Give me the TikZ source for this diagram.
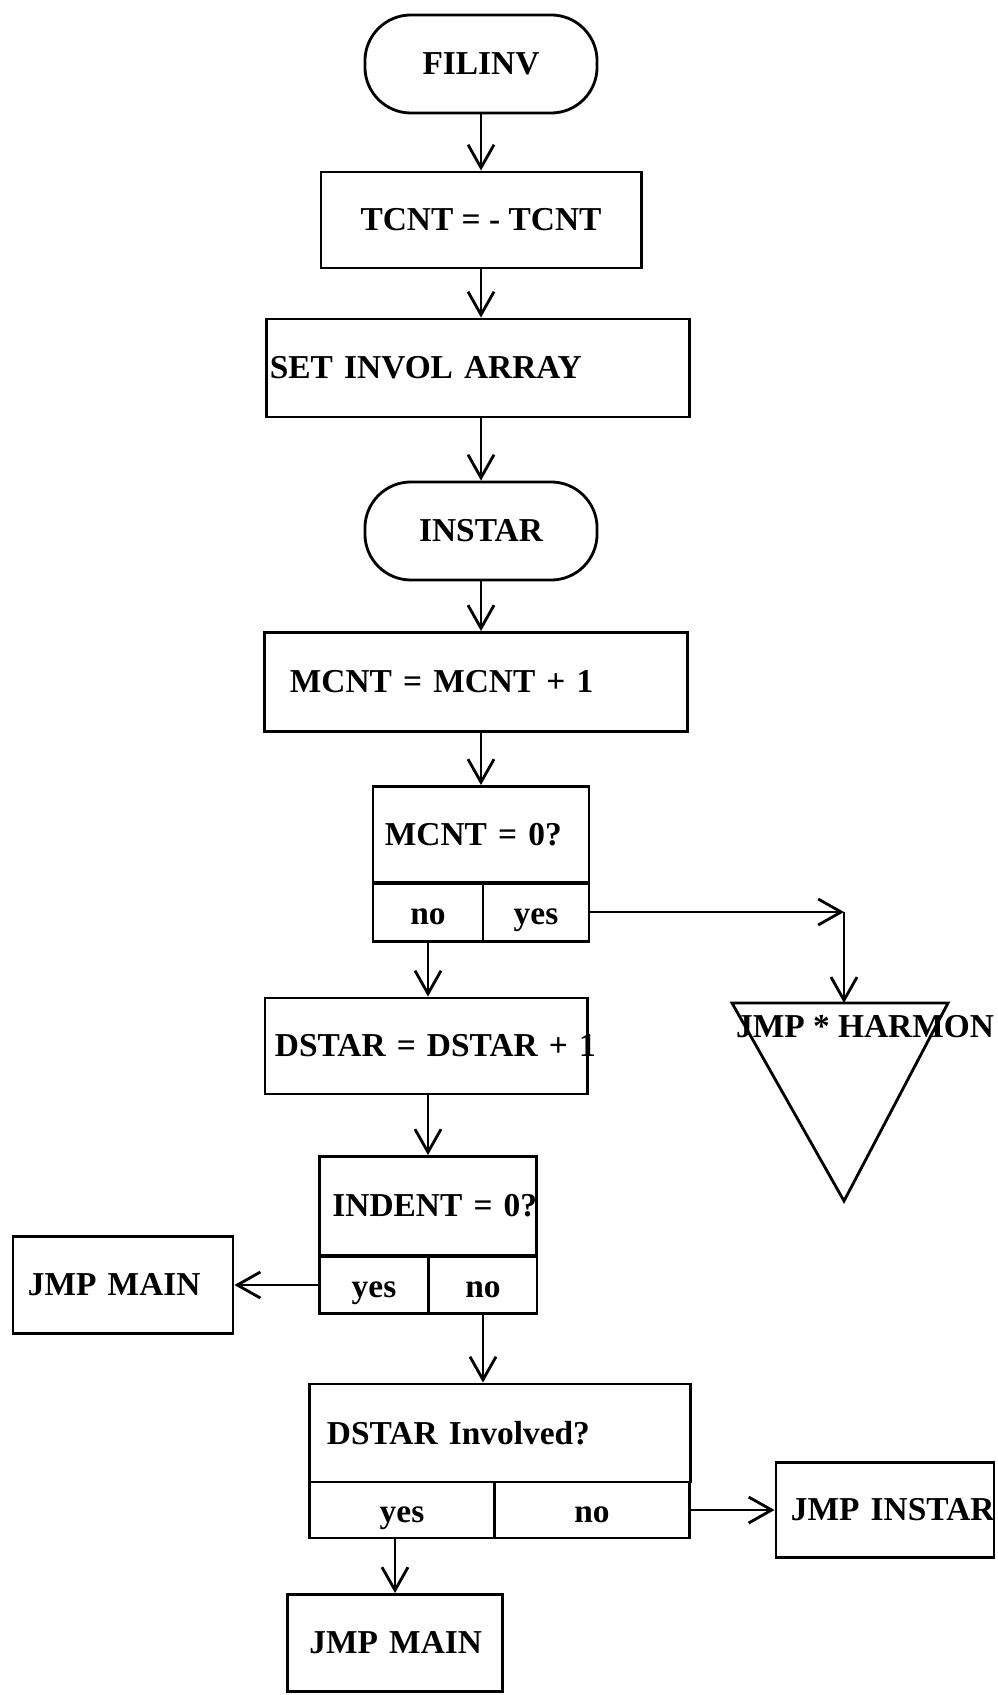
\documentclass[tikz,border=0pt]{standalone}
\usepackage{fontspec}
\setmainfont{Liberation Serif}
\usetikzlibrary{arrows.meta}
\begin{document}
\begin{tikzpicture}[x=0.01cm, y=-0.01cm, line width=0.8pt,
  >={Straight Barb[length=2.3mm,width=2.6mm]},
  every node/.style={font=\fontsize{9.5}{11}\selectfont\bfseries},
  box/.style={draw, align=left, inner ysep=0pt},
  term/.style={draw, rounded corners=0.46cm, minimum width=2.32cm, minimum height=0.98cm},
  cell/.style={draw, inner sep=0pt, text height=7pt, text depth=0pt}]
\useasboundingbox (0,0) rectangle (998,1695);
\node[term] (filinv) at (481,64) {FILINV};
\node[draw, minimum width=3.2cm, minimum height=0.96cm] (tcnt) at (481,220) {TCNT = - TCNT};
\node[box, text width=4.16cm, inner xsep=0.03cm, minimum height=0.98cm] (setinv) at (478,368) {SET INVOL ARRAY};
\node[term] (instar) at (481,531) {INSTAR};
\node[box, text width=3.72cm, inner xsep=0.25cm, minimum height=0.99cm] (mcnt1) at (476,682) {MCNT = MCNT + 1};
\node[box, text width=1.92cm, inner xsep=0.12cm, minimum height=0.97cm] (mcntq) at (481,835) {MCNT = 0?};
\node[cell, minimum width=1.10cm, minimum height=0.59cm] (mcno) at (428,912) {no};
\node[cell, minimum width=1.06cm, minimum height=0.59cm] (mcyes) at (536,912) {yes};
\coordinate (hcorner) at (844,912);
\coordinate (tritop) at (844,1003);
\draw (732,1003) -- (948,1003) -- (844,1201) -- cycle;
\node (harmon) at (865,1027) {JMP * HARMON};
\node[box, text width=3.02cm, inner xsep=0.10cm, minimum height=0.96cm] (dstar1) at (426,1046) {\mbox{DSTAR = DSTAR + 1}};
\node[box, text width=1.91cm, inner xsep=0.13cm, minimum height=0.99cm] (indentq) at (428,1206) {\mbox{INDENT = 0?}};
\node[cell, minimum width=1.09cm, minimum height=0.57cm] (inyes) at (374,1285) {yes};
\node[cell, minimum width=1.08cm, minimum height=0.57cm] (inno) at (483,1285) {no};
\node[box, text width=1.90cm, inner xsep=0.15cm, minimum height=0.97cm] (mainl) at (123,1285) {JMP MAIN};
\node[box, text width=3.46cm, inner xsep=0.17cm, minimum height=0.98cm] (involved) at (500,1433) {DSTAR Involved?};
\node[cell, minimum width=1.85cm, minimum height=0.56cm] (ivyes) at (402,1510) {yes};
\node[cell, minimum width=1.95cm, minimum height=0.56cm] (ivno) at (592,1510) {no};
\node[box, text width=1.88cm, inner xsep=0.15cm, minimum height=0.95cm] (jinstar) at (885,1510) {\mbox{JMP INSTAR}};
\node[box, text width=1.71cm, inner xsep=0.22cm, minimum height=0.97cm] (mainb) at (395,1643) {\mbox{JMP MAIN}};
\draw[->] (filinv) -- (tcnt);
\draw[->] (tcnt.south) -- (tcnt.south |- setinv.north);
\draw[->] (instar |- setinv.south) -- (instar);
\draw[->] (instar) -- (instar |- mcnt1.north);
\draw[->] (instar |- mcnt1.south) -- (mcntq);
\draw[->] (mcno) -- (mcno |- dstar1.north);
\draw[->] (mcyes) -- (hcorner);
\draw[->] (hcorner) -- (tritop);
\draw[->] (indentq |- dstar1.south) -- (indentq);
\draw[->] (inyes) -- (mainl);
\draw[->] (inno) -- (inno |- involved.north);
\draw[->] (mainb |- ivyes.south) -- (mainb);
\draw[->] (ivno) -- (jinstar);
\end{tikzpicture}
\end{document}
